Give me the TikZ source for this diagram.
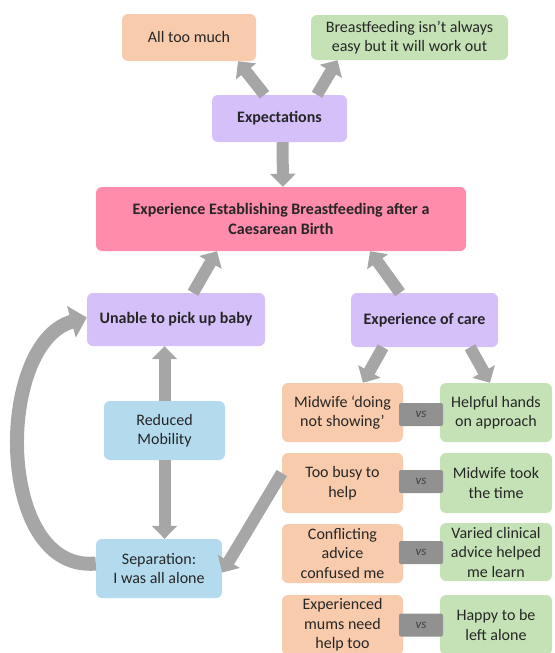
\documentclass[tikz,border=0pt]{standalone}
\usepackage{fontspec}
\setmainfont{Carlito}
\usepackage{tikz}
\usetikzlibrary{arrows.meta}

\definecolor{peach}{RGB}{248,203,173}
\definecolor{sage}{RGB}{197,226,182}
\definecolor{lilac}{RGB}{213,192,250}
\definecolor{rose}{RGB}{255,140,170}
\definecolor{sky}{RGB}{180,218,238}
\definecolor{vsgray}{RGB}{145,145,145}
\definecolor{arrowgray}{RGB}{166,166,166}

\begin{document}
\begin{tikzpicture}[x=1pt,y=-1pt,
  box/.style={rounded corners=6pt, align=center, inner sep=0pt, text=black!85,
    font=\fontsize{16}{19.5}\selectfont},
  orangebox/.style={box, fill=peach, minimum width=121pt, minimum height=59pt},
  greenbox/.style={box, fill=sage, minimum width=112pt, minimum height=59pt},
  purplebox/.style={box, fill=lilac, font=\fontsize{16}{19.5}\selectfont\bfseries},
  bluebox/.style={box, fill=sky, minimum height=59pt},
  vsbox/.style={rounded corners=2pt, fill=vsgray, minimum width=44pt, minimum height=23pt,
    inner sep=0pt, text=black!75, font=\fontsize{13}{15}\selectfont\itshape},
  blockarrow/.style={draw=arrowgray, line width=12pt, -{Triangle[width=25pt,length=13pt]}}]
\useasboundingbox (0,0) rectangle (554,653);
\clip (0,0) rectangle (554,653);

% top
\node[box, fill=peach, minimum width=134pt, minimum height=47pt] (much) at (189,37.5) {All too much};
\node[box, fill=sage, minimum width=197pt, minimum height=45pt] (easy) at (409.5,37.5) {Breastfeeding isn’t always\\easy but it will work out};
\node[purplebox, minimum width=135pt, minimum height=47pt] (expect) at (279.5,118.5) {Expectations};
\node[box, fill=rose, minimum width=370pt, minimum height=64pt, font=\fontsize{16}{19.5}\selectfont\bfseries] (core) at (281,219)
  {Experience Establishing Breastfeeding after a\\Caesarean Birth};

% middle
\node[purplebox, minimum width=178pt, minimum height=53pt] (unable) at (176,319.5) {Unable to pick up baby};
\node[purplebox, minimum width=147pt, minimum height=54pt] (care) at (424.5,320) {Experience of care};
\node[bluebox, minimum width=121pt] (mobility) at (164.5,430.5) {Reduced\\Mobility};
\node[bluebox, minimum width=126pt] (alone) at (159,568.5) {Separation:\\I was all alone};

% care pairs
\node[orangebox] (showing) at (342.5,412.5) {Midwife ‘doing\\not showing’};
\node[greenbox] (hands) at (496,412.5) {Helpful hands\\on approach};
\node[orangebox, minimum height=60pt] (busy) at (342.5,483) {Too busy to\\help};
\node[greenbox, minimum height=60pt] (time) at (496,483) {Midwife took\\the time};
\node[orangebox] (conflict) at (342.5,553.5) {Conflicting\\advice\\confused me};
\node[greenbox, minimum height=58pt] (varied) at (496,552) {Varied clinical\\advice helped\\me learn};
\node[orangebox, minimum height=60pt] (mums) at (342.5,625) {Experienced\\mums need\\help too};
\node[greenbox, minimum height=60pt] (alonehappy) at (496,625) {Happy to be\\left alone};

\node[vsbox] (vsA) at (421,414.5) {vs};
\node[vsbox] (vsB) at (421,481.5) {vs};
\node[vsbox] (vsC) at (421,552.5) {vs};
\node[vsbox] (vsD) at (421,625) {vs};

% arrows
\draw[blockarrow] ([xshift=-15pt]expect.north) -- ([xshift=49pt]much.south);
\draw[blockarrow] ([xshift=37.5pt]expect.north) -- ([xshift=-72pt]easy.south);
\draw[blockarrow] ([xshift=3pt]expect.south) -- ([xshift=2pt]core.north);
\draw[blockarrow] ([xshift=17pt]unable.north) -- ([xshift=-64pt]core.south);
\draw[blockarrow] ([xshift=-24.5pt]care.north) -- ([xshift=89pt]core.south);
\draw[blockarrow] ([xshift=-41.5pt]care.south) -- ([xshift=20.5pt]showing.north);
\draw[blockarrow] ([xshift=45.5pt]care.south) -- ([xshift=-6pt]hands.north);
\draw[blockarrow] (mobility.north) -- (mobility.north |- unable.south);
\draw[blockarrow] (mobility.south) -- (mobility.south |- alone.north);
\draw[blockarrow] ([yshift=10pt]busy.west) -- ([yshift=-4pt]alone.east);
\draw[blockarrow, line width=14pt, -{Triangle[width=32pt,length=16pt]}] ([yshift=5pt]alone.west)
  .. controls (-5,573) and (-5,343) .. ([yshift=2pt]unable.west);
\end{tikzpicture}
\end{document}
